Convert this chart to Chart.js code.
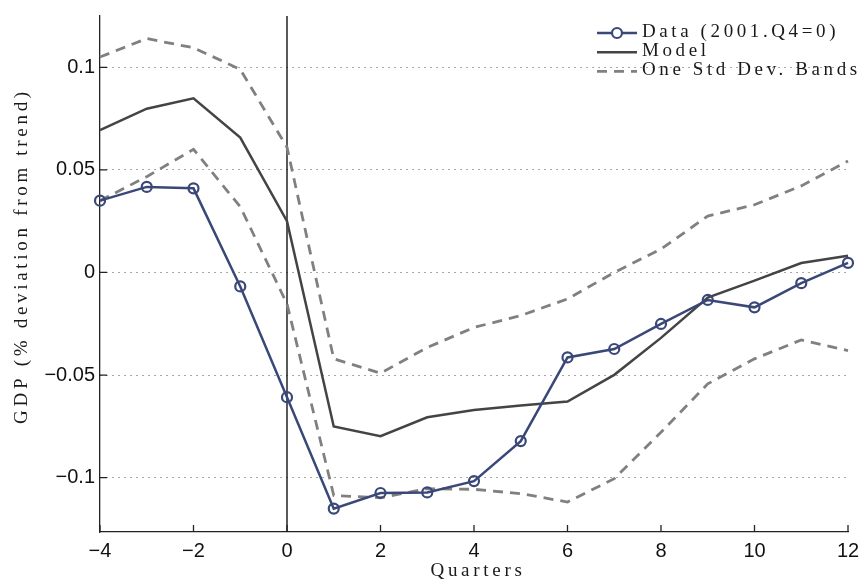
<!DOCTYPE html>
<html>
<head>
<meta charset="utf-8">
<script src="https://cdn.jsdelivr.net/npm/chart.js@4.4.0/dist/chart.umd.min.js"></script>
<style>
  html, body { margin: 0; padding: 0; background: #fff; }
  #gdpChart { display: block; }
</style>
</head>
<body>
<canvas id="gdpChart" width="862" height="582"></canvas>
<script>
// Trimestres (0 = 2001.Q4)
var quarters = [-4, -3, -2, -1, 0, 1, 2, 3, 4, 5, 6, 7, 8, 9, 10, 11, 12];

// Séries
var gdpData = [0.035, 0.0417, 0.041, -0.0068, -0.0608, -0.1151, -0.1075, -0.1072, -0.1017, -0.0822, -0.0414, -0.0373, -0.0251, -0.0134, -0.0170, -0.0052, 0.0047];
var modelValues = [0.0694, 0.0798, 0.0849, 0.0657, 0.025, -0.0751, -0.0798, -0.0706, -0.067, -0.0649, -0.0629, -0.0499, -0.0319, -0.0122, -0.004, 0.0046, 0.0081];
var upperBand = [0.105, 0.114, 0.1095, 0.099, 0.061, -0.0421, -0.0491, -0.0366, -0.0268, -0.021, -0.0129, 0.0, 0.0114, 0.0275, 0.033, 0.0422, 0.0543];
var lowerBand = [0.035, 0.0467, 0.06, 0.032, -0.0153, -0.1087, -0.1098, -0.1054, -0.1057, -0.1078, -0.1119, -0.1005, -0.0779, -0.0543, -0.0421, -0.0329, -0.0381];

// Graduations
var xTickValues = [-4, -2, 0, 2, 4, 6, 8, 10, 12];
var xTickLabels = ['\u22124', '\u22122', '0', '2', '4', '6', '8', '10', '12'];
var yTickValues = [-0.1, -0.05, 0, 0.05, 0.1];
var yTickLabels = ['\u22120.1', '\u22120.05', '0', '0.05', '0.1'];

var serifFont = '19px "Liberation Serif", "DejaVu Serif", serif';

function toPoints(values) {
    return quarters.map(function(q, i) { return {x: q, y: values[i]}; });
}

// Traits de graduation vers l'intérieur, ligne verticale en 0, légende et titres
var decorPlugin = {
    id: 'decor',
    beforeDatasetsDraw: function(chart) {
        var ctx = chart.ctx, area = chart.chartArea;
        var x0 = chart.scales.x.getPixelForValue(0);
        ctx.save();
        ctx.strokeStyle = '#000';
        ctx.lineWidth = 1.3;
        ctx.beginPath();
        ctx.moveTo(x0, area.top);
        ctx.lineTo(x0, area.bottom);
        ctx.stroke();
        ctx.restore();
    },
    afterDraw: function(chart) {
        var ctx = chart.ctx, area = chart.chartArea;
        var xs = chart.scales.x, ys = chart.scales.y;
        ctx.save();
        ctx.strokeStyle = '#222';
        ctx.lineWidth = 1.3;
        ctx.beginPath();
        xTickValues.forEach(function(v) {
            var px = xs.getPixelForValue(v);
            ctx.moveTo(px, area.bottom);
            ctx.lineTo(px, area.bottom - 7);
        });
        yTickValues.forEach(function(v) {
            var py = ys.getPixelForValue(v);
            ctx.moveTo(area.left, py);
            ctx.lineTo(area.left + 7, py);
        });
        ctx.stroke();

        // Titres des axes
        ctx.fillStyle = '#1a1a1a';
        ctx.font = serifFont;
        ctx.letterSpacing = '3.7px';
        ctx.textAlign = 'center';
        ctx.textBaseline = 'middle';
        ctx.fillText('Quarters', (area.left + area.right) / 2 + 4, 571);
        ctx.save();
        ctx.translate(22, 256);
        ctx.rotate(-Math.PI / 2);
        ctx.fillText('GDP (% deviation from trend)', 0, 0);
        ctx.restore();

        // Légende
        ctx.letterSpacing = '3.6px';
        var seen = {};
        var row = 0;
        chart.data.datasets.forEach(function(ds) {
            if (seen[ds.label]) return;
            seen[ds.label] = true;
            var y = 33 + row * 19.2;
            ctx.save();
            ctx.strokeStyle = ds.borderColor;
            ctx.lineWidth = ds.borderWidth;
            ctx.setLineDash(ds.borderDash || []);
            ctx.beginPath();
            ctx.moveTo(597, y);
            ctx.lineTo(637, y);
            ctx.stroke();
            if (ds.pointRadius > 0) {
                ctx.setLineDash([]);
                ctx.lineWidth = ds.pointBorderWidth;
                ctx.fillStyle = '#fff';
                ctx.beginPath();
                ctx.arc(617, y, ds.pointRadius, 0, Math.PI * 2);
                ctx.fill();
                ctx.stroke();
            }
            ctx.restore();
            ctx.textAlign = 'left';
            ctx.fillText(ds.label, 642, y - 1);
            row++;
        });
        ctx.restore();
    }
};

var ctx = document.getElementById('gdpChart').getContext('2d');
var gdpChart = new Chart(ctx, {
    type: 'line',
    data: {
        datasets: [{
            label: 'Data (2001.Q4=0)',
            data: toPoints(gdpData),
            borderColor: '#3a4878',
            borderWidth: 2.5,
            pointRadius: 5,
            pointBorderWidth: 2.2,
            pointBackgroundColor: 'rgba(255,255,255,0)',
            pointBorderColor: '#3a4878',
            tension: 0
        }, {
            label: 'Model',
            data: toPoints(modelValues),
            borderColor: '#444444',
            borderWidth: 2.5,
            pointRadius: 0,
            tension: 0
        }, {
            label: 'One Std Dev. Bands',
            data: toPoints(upperBand),
            borderColor: '#808080',
            borderWidth: 2.8,
            borderDash: [10, 7],
            pointRadius: 0,
            tension: 0
        }, {
            label: 'One Std Dev. Bands',
            data: toPoints(lowerBand),
            borderColor: '#808080',
            borderWidth: 2.8,
            borderDash: [10, 7],
            pointRadius: 0,
            tension: 0
        }]
    },
    options: {
        responsive: false,
        animation: false,
        devicePixelRatio: 1,
        clip: false,
        layout: { padding: { top: 16, right: 14, left: 0, bottom: 0 } },
        plugins: {
            legend: { display: false },
            tooltip: { enabled: false }
        },
        scales: {
            x: {
                type: 'linear',
                min: -4,
                max: 12,
                afterBuildTicks: function(scale) {
                    scale.ticks = xTickValues.map(function(v) { return {value: v}; });
                },
                afterFit: function(scale) {
                    scale.height = 50;
                    scale.paddingLeft = 0;
                    scale.paddingRight = 0;
                },
                ticks: {
                    callback: function(val, idx) { return xTickLabels[idx]; },
                    font: { family: '"Liberation Sans", Arial, sans-serif', size: 20 },
                    color: '#111',
                    padding: 7,
                    maxRotation: 0
                },
                grid: { display: false, drawTicks: false },
                border: { display: true, color: '#222', width: 1.3 }
            },
            y: {
                type: 'linear',
                min: -0.1265,
                max: 0.125,
                afterBuildTicks: function(scale) {
                    scale.ticks = yTickValues.map(function(v) { return {value: v}; });
                },
                afterFit: function(scale) {
                    scale.width = 100;
                    scale.paddingTop = 0;
                    scale.paddingBottom = 0;
                },
                ticks: {
                    callback: function(val, idx) { return yTickLabels[idx]; },
                    font: { family: '"Liberation Sans", Arial, sans-serif', size: 20 },
                    color: '#111',
                    padding: 5
                },
                grid: {
                    display: true,
                    drawTicks: false,
                    color: '#8a8a8a',
                    lineWidth: 1
                },
                border: { display: true, color: '#222', width: 1.3, dash: [1.5, 4.5] }
            }
        }
    },
    plugins: [decorPlugin]
});
</script>
</body>
</html>
